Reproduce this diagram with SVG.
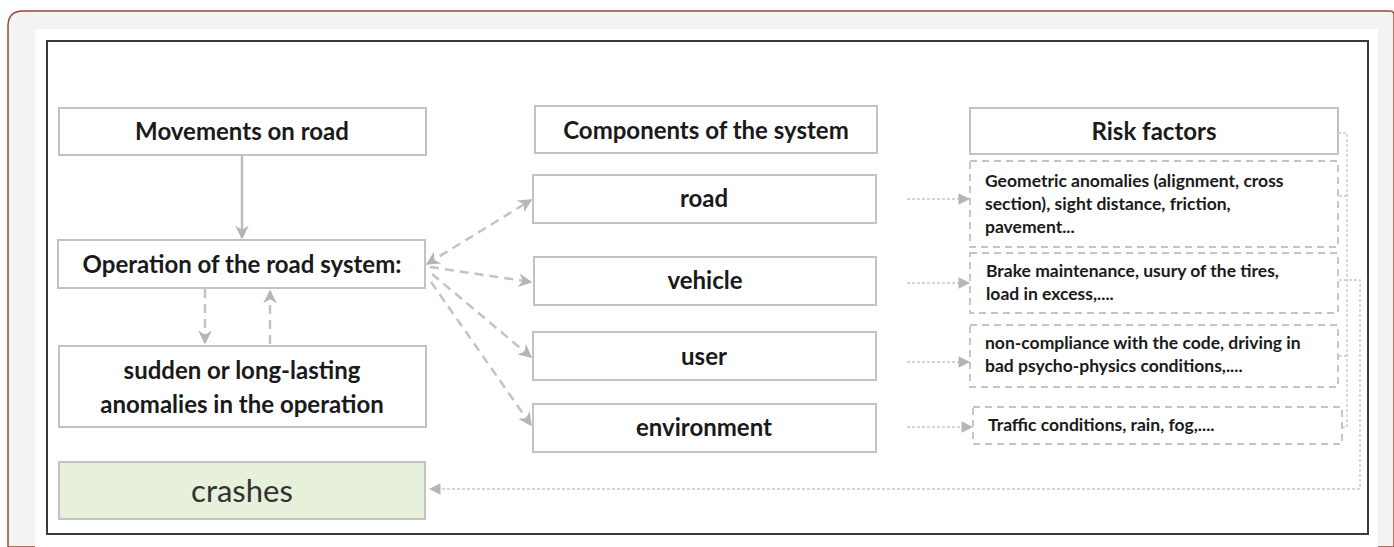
<svg xmlns="http://www.w3.org/2000/svg" width="1394" height="547" viewBox="0 0 1394 547">
<style>
.box{fill:#fff;stroke:#c3c3c3;stroke-width:2}
.dbox{fill:#fff;stroke:#c3c3c3;stroke-width:1.8;stroke-dasharray:7,5}
.t{font-family:Lato,"Liberation Sans",sans-serif;font-weight:bold;fill:#1a1a1a;text-anchor:middle}
.h{font-size:24px}
.r{font-family:Lato,"Liberation Sans",sans-serif;font-weight:bold;fill:#1a1a1a;font-size:17.5px}
.dash{fill:none;stroke:#c3c3c3;stroke-width:2.5;stroke-dasharray:9,6}
.dot{fill:none;stroke:#c8c8c8;stroke-width:1.3;stroke-dasharray:3,2}
</style>
<defs>
<marker id="ah" viewBox="0 0 10 10" refX="9" refY="5" markerWidth="5.5" markerHeight="5.5" orient="auto-start-reverse" markerUnits="strokeWidth">
<path d="M0,0 L10,5 L0,10 L3,5 z" fill="#b5b5b5"/>
</marker>
<marker id="ah2" viewBox="0 0 10 10" refX="9" refY="5" markerWidth="9" markerHeight="9" orient="auto-start-reverse" markerUnits="strokeWidth">
<path d="M0,0 L10,5 L0,10 z" fill="#b5b5b5"/>
</marker>
</defs>
<path d="M8,547 V26 Q8,11 23,11 H1390 Q1394,11 1394,15 V547 Z" fill="#f3f3f3" stroke="#9a4a30" stroke-width="1.5"/>
<rect x="35" y="29" width="1343" height="530" fill="#fff"/>
<rect x="47" y="41" width="1321" height="493" fill="#fff" stroke="#3a3a3a" stroke-width="2"/>

<g id="connectors">
<line x1="242" y1="155" x2="242" y2="238" stroke="#bdbdbd" stroke-width="2.5" marker-end="url(#ah)"/>
<line x1="205" y1="289" x2="205" y2="343" class="dash" stroke-dasharray="8,6" marker-end="url(#ah)"/>
<line x1="270" y1="344" x2="270" y2="291" class="dash" stroke-dasharray="8,6" marker-end="url(#ah)"/>
<line x1="427" y1="264" x2="531" y2="200" class="dash" marker-start="url(#ah)" marker-end="url(#ah)"/>
<line x1="430" y1="267" x2="531" y2="282" class="dash" marker-end="url(#ah)"/>
<line x1="432" y1="274" x2="531" y2="357" class="dash" marker-end="url(#ah)"/>
<line x1="431" y1="282" x2="531" y2="425" class="dash" marker-end="url(#ah)"/>
<line x1="907" y1="199" x2="969" y2="199" class="dot" marker-end="url(#ah2)"/>
<line x1="907" y1="283" x2="969" y2="283" class="dot" marker-end="url(#ah2)"/>
<line x1="907" y1="362" x2="969" y2="362" class="dot" marker-end="url(#ah2)"/>
<line x1="907" y1="427" x2="972" y2="427" class="dot" marker-end="url(#ah2)"/>
<path d="M1338,133 H1347 V427 H1342 M1339,196 H1347 M1339,356 H1347" class="dot"/>
<path d="M1339,280 H1360 V489 H430" class="dot" marker-end="url(#ah2)"/>
</g>

<g id="movements">
<rect class="box" x="59" y="108" width="367" height="47"/>
<text class="t h" x="242" y="140">Movements on road</text>
</g>
<g id="operation">
<rect class="box" x="58" y="240" width="367" height="48"/>
<text class="t h" x="242" y="273">Operation of the road system:</text>
</g>
<g id="anomalies">
<rect class="box" x="59" y="346" width="367" height="81"/>
<text class="t h" x="242" y="379">sudden or long-lasting</text>
<text class="t h" x="242" y="413">anomalies in the operation</text>
</g>
<g id="crashes">
<rect x="59" y="462" width="366" height="57" fill="#e6f0da" stroke="#c3c3c3" stroke-width="2"/>
<text x="242" y="502" font-family="Lato,'Liberation Sans',sans-serif" font-size="31" fill="#333" text-anchor="middle">crashes</text>
</g>

<g id="components">
<rect class="box" x="535" y="106" width="342" height="47"/>
<text class="t h" x="706" y="139">Components of the system</text>
</g>
<g id="road">
<rect class="box" x="533" y="175" width="343" height="48"/>
<text class="t h" x="704" y="207">road</text>
</g>
<g id="vehicle">
<rect class="box" x="534" y="257" width="342" height="48"/>
<text class="t h" x="705" y="289">vehicle</text>
</g>
<g id="user">
<rect class="box" x="533" y="332" width="343" height="48"/>
<text class="t h" x="704" y="365">user</text>
</g>
<g id="environment">
<rect class="box" x="533" y="404" width="343" height="48"/>
<text class="t h" x="704" y="436">environment</text>
</g>

<g id="risk-factors">
<rect class="box" x="970" y="108" width="368" height="46"/>
<text class="t h" x="1154" y="140">Risk factors</text>
</g>
<g id="risk-road">
<rect class="dbox" x="970" y="161" width="368" height="86"/>
<text class="r" x="985" y="187">Geometric anomalies (alignment, cross</text>
<text class="r" x="985" y="210">section), sight distance, friction,</text>
<text class="r" x="985" y="233">pavement...</text>
</g>
<g id="risk-vehicle">
<rect class="dbox" x="970" y="253" width="368" height="60"/>
<text class="r" x="986" y="277">Brake maintenance, usury of the tires,</text>
<text class="r" x="986" y="300">load in excess,....</text>
</g>
<g id="risk-user">
<rect class="dbox" x="970" y="325" width="368" height="62"/>
<text class="r" x="985" y="349">non-compliance with the code, driving in</text>
<text class="r" x="985" y="372">bad psycho-physics conditions,....</text>
</g>
<g id="risk-environment">
<rect class="dbox" x="973" y="407" width="369" height="37"/>
<text class="r" x="988" y="431">Traffic conditions, rain, fog,....</text>
</g>
</svg>
